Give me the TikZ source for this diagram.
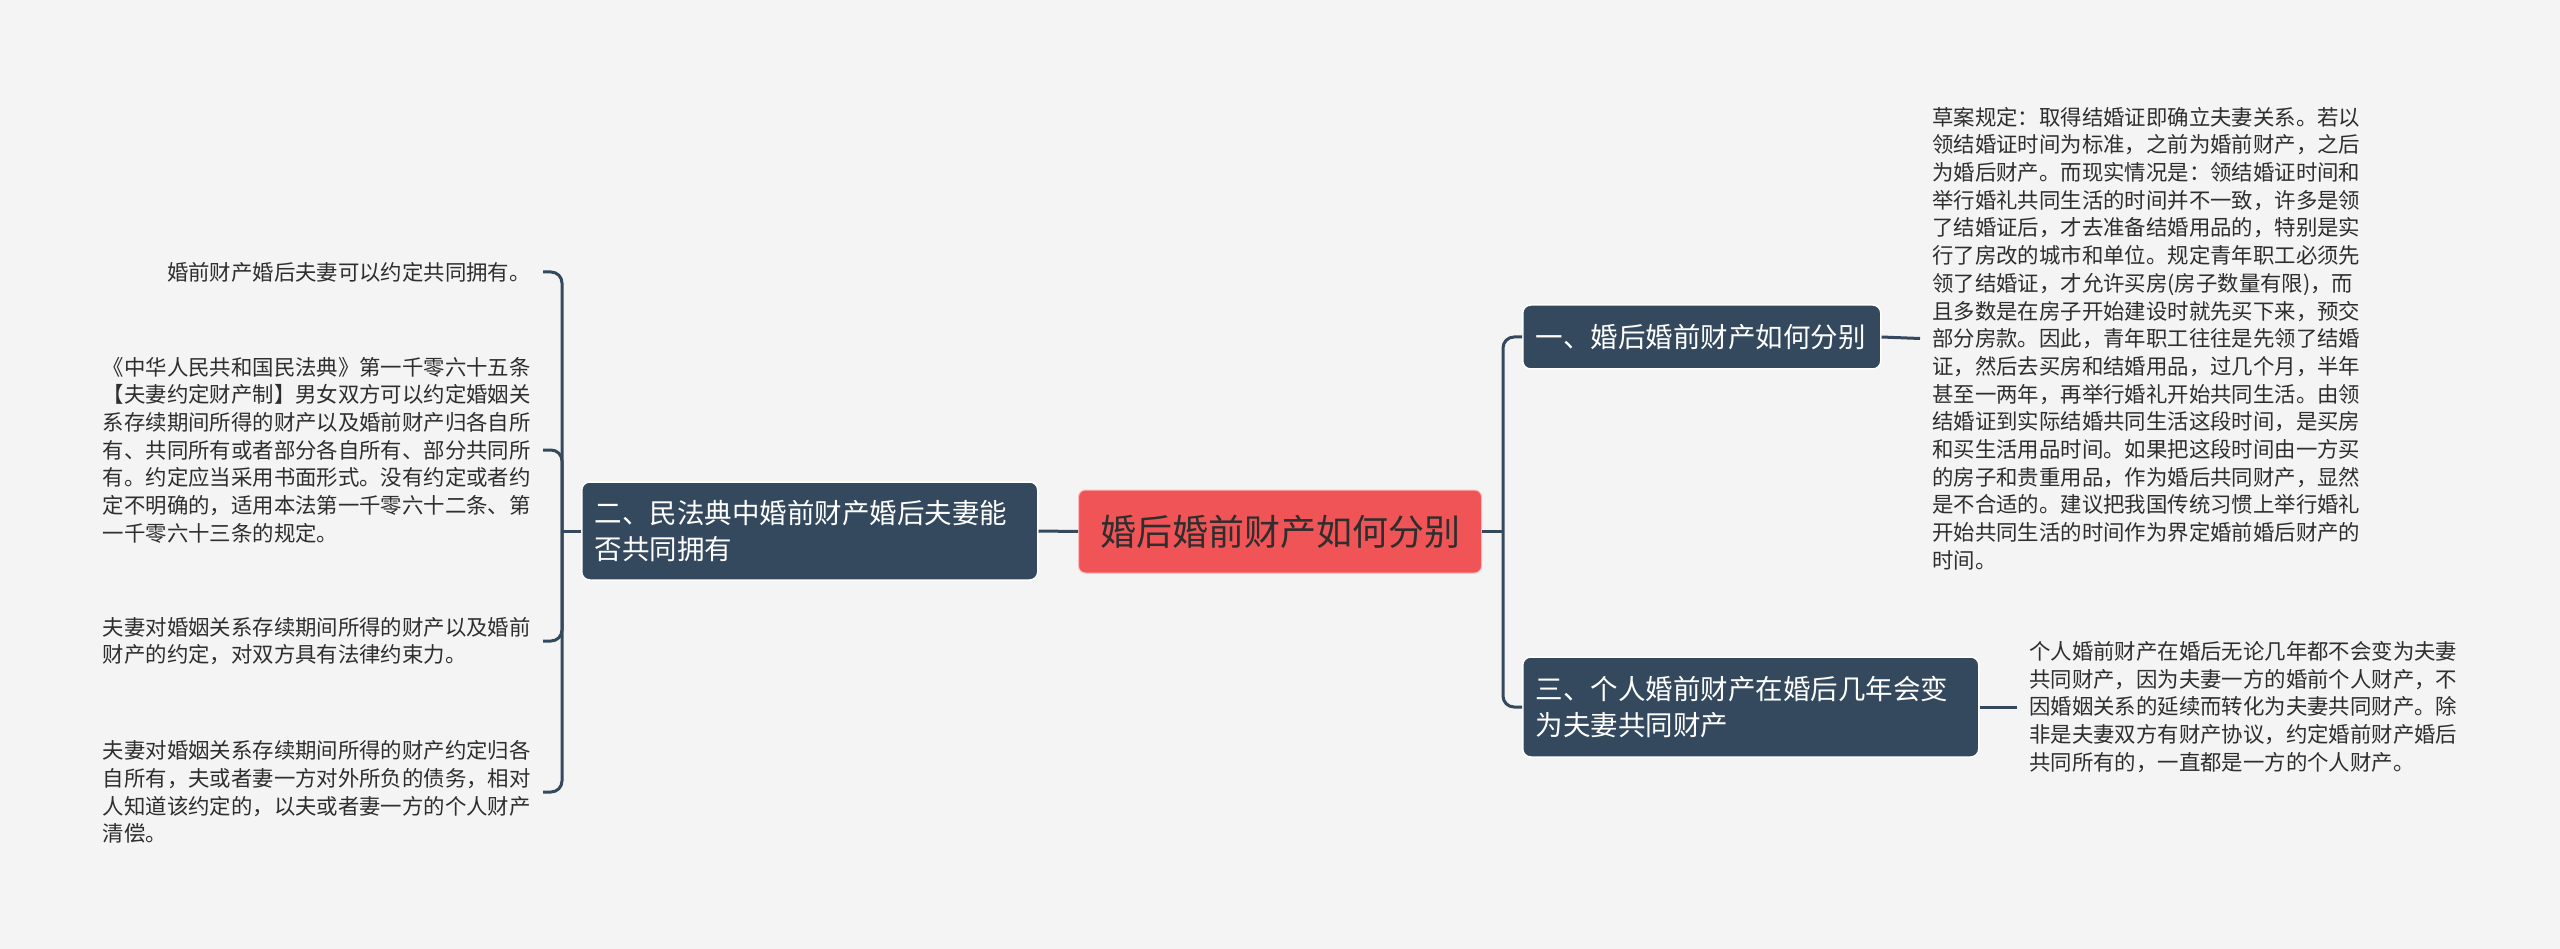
\documentclass[tikz,border=0pt]{standalone}
\usepackage{fontspec}
\setmainfont{Noto Sans CJK SC}
\usetikzlibrary{calc}
\definecolor{bgcol}{HTML}{F4F4F4}
\definecolor{darknode}{HTML}{34495E}
\definecolor{rootred}{HTML}{F05456}
\definecolor{txtcol}{HTML}{2E2E2E}
\tikzset{
  rootbox/.style={fill=rootred, draw=white!60!rootred, line width=1pt, rounded corners=7pt, minimum width=403pt, minimum height=83pt,
    inner sep=0pt, text=txtcol, font=\fontsize{36pt}{40pt}\selectfont},
  topicbox/.style={fill=darknode, draw=white, line width=1.5pt, rounded corners=8pt, inner xsep=13pt, inner ysep=0pt,
    align=left, text=white, font=\fontsize{27.5pt}{36pt}\selectfont},
  leaftext/.style={inner sep=0pt, text=txtcol, font=\fontsize{21.4pt}{27.7pt}\selectfont},
  conn/.style={draw=darknode, line width=3pt, rounded corners=11pt},
}
\begin{document}
\begin{tikzpicture}[x=1pt,y=-1pt]
\fill[bgcol] (0,0) rectangle (2560,949);
\useasboundingbox (0,0) rectangle (2560,949);

% root
\node[rootbox, anchor=west] (c) at (1078,531.5) {婚后婚前财产如何分别};

% topics
\node[topicbox, anchor=west, text width=332pt, minimum height=64pt] (n1) at (1522,337) {一、婚后婚前财产如何分别};
\node[topicbox, anchor=west, text width=430pt, minimum height=98pt] (n2) at (581,531) {二、民法典中婚前财产婚后夫妻能\\否共同拥有};
\node[topicbox, anchor=west, text width=430pt, minimum height=100pt] (n3) at (1522,707) {三、个人婚前财产在婚后几年会变\\为夫妻共同财产};

% right leaf texts
\node[leaftext, anchor=west, align=left] (ta) at (1932,338.5) {草案规定：取得结婚证即确立夫妻关系。若以\\
领结婚证时间为标准，之前为婚前财产，之后\\
为婚后财产。而现实情况是：领结婚证时间和\\
举行婚礼共同生活的时间并不一致，许多是领\\
了结婚证后，才去准备结婚用品的，特别是实\\
行了房改的城市和单位。规定青年职工必须先\\
领了结婚证，才允许买房(房子数量有限)，而\\
且多数是在房子开始建设时就先买下来，预交\\
部分房款。因此，青年职工往往是先领了结婚\\
证，然后去买房和结婚用品，过几个月，半年\\
甚至一两年，再举行婚礼开始共同生活。由领\\
结婚证到实际结婚共同生活这段时间，是买房\\
和买生活用品时间。如果把这段时间由一方买\\
的房子和贵重用品，作为婚后共同财产，显然\\
是不合适的。建议把我国传统习惯上举行婚礼\\
开始共同生活的时间作为界定婚前婚后财产的\\
时间。};

\node[leaftext, anchor=west, align=left] (tb) at (2029,707) {个人婚前财产在婚后无论几年都不会变为夫妻\\
共同财产，因为夫妻一方的婚前个人财产，不\\
因婚姻关系的延续而转化为夫妻共同财产。除\\
非是夫妻双方有财产协议，约定婚前财产婚后\\
共同所有的，一直都是一方的个人财产。};

% left leaf texts
\node[leaftext, anchor=east, text width=428pt, align=right] (l1) at (531,272) {婚前财产婚后夫妻可以约定共同拥有。};
\node[leaftext, anchor=east, text width=428pt, align=left] (l2) at (531,450) {《中华人民共和国民法典》第一千零六十五条\\
【夫妻约定财产制】男女双方可以约定婚姻关\\
系存续期间所得的财产以及婚前财产归各自所\\
有、共同所有或者部分各自所有、部分共同所\\
有。约定应当采用书面形式。没有约定或者约\\
定不明确的，适用本法第一千零六十二条、第\\
一千零六十三条的规定。};
\node[leaftext, anchor=east, text width=428pt, align=left] (l3) at (531,641) {夫妻对婚姻关系存续期间所得的财产以及婚前\\
财产的约定，对双方具有法律约束力。};
\node[leaftext, anchor=east, text width=428pt, align=left] (l4) at (531,792) {夫妻对婚姻关系存续期间所得的财产约定归各\\
自所有，夫或者妻一方对外所负的债务，相对\\
人知道该约定的，以夫或者妻一方的个人财产\\
清偿。};

% junction coordinates
\coordinate (rj) at ($(c.east)+(21,0)$);
\coordinate (lj) at ($(n2.west)+(-19,0)$);

% connectors
\draw[conn] (c.west) -- (n2.east);
\draw[conn] (c.east) -- (rj);
\draw[conn] (n1.west) -| (rj) |- (n3.west);
\draw[conn] (n1.east) -- ($(ta.west)+(-12,0)$);
\draw[conn] (n3.east) -- ($(tb.west)+(-12,0)$);
\draw[conn] (n2.west) -- (lj);
\draw[conn] ($(l1.east)+(12,0)$) -| (lj) |- ($(l4.east)+(12,0)$);
\draw[conn] ($(l2.east)+(12,0)$) -| (lj);
\draw[conn] ($(l3.east)+(12,0)$) -| (lj);
\end{tikzpicture}
\end{document}
